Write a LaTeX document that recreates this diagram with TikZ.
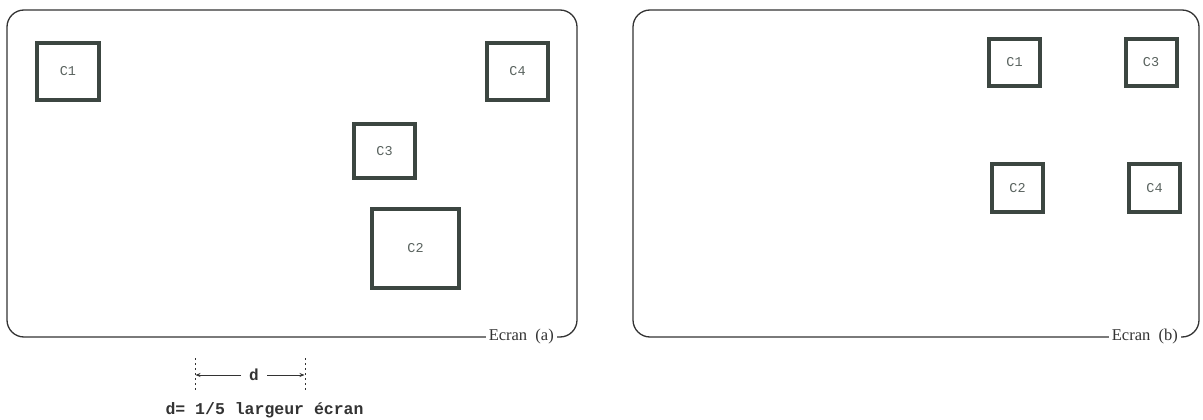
\documentclass[tikz,border=0pt]{standalone}
\usepackage{fontspec}
\setmainfont{Liberation Serif}
\newfontfamily\monof{Liberation Mono}
\usetikzlibrary{arrows.meta}
\definecolor{boxc}{HTML}{3C4641}
\definecolor{linec}{HTML}{333333}
\tikzset{
  screen/.style={draw=linec, line width=1.3pt, rounded corners=17pt},
  cbox/.style={draw=boxc, line width=4pt, font=\monof\fontsize{13.5}{13.5}\selectfont, text=boxc!85},
  scrlabel/.style={fill=white, inner sep=3pt, font=\fontsize{16.5}{16.5}\selectfont, text=linec},
  dimline/.style={draw=linec, line width=0.8pt, dash pattern=on 2pt off 3pt},
  dimarrow/.style={draw=linec, line width=0.8pt, -{Stealth[length=5pt,width=4pt]}},
}
\begin{document}
\begin{tikzpicture}[x=1pt,y=-1pt]
\useasboundingbox (0,0) rectangle (1203,420);
% screens
\draw[screen] (7,10) rectangle (577,337);
\draw[screen] (633,10) rectangle (1199,337);
\node[scrlabel, anchor=east] (la) at (557,337) {Ecran\ \ (a)};
\node[scrlabel, anchor=east] (lb) at (1181,337) {Ecran\ \ (b)};
% screen (a) boxes
\node[cbox, minimum width=62pt, minimum height=57pt] (a1) at (68,71.5) {C1};
\node[cbox, minimum width=61pt, minimum height=57pt] (a4) at (517.5,71.5) {C4};
\node[cbox, minimum width=61pt, minimum height=54pt] (a3) at (384.5,151) {C3};
\node[cbox, minimum width=87pt, minimum height=79pt] (a2) at (415.5,248.5) {C2};
% screen (b) boxes
\node[cbox, minimum width=51pt, minimum height=47pt] (b1) at (1014.5,62.5) {C1};
\node[cbox, minimum width=51pt, minimum height=47pt] (b3) at (1151,62.5) {C3};
\node[cbox, minimum width=51pt, minimum height=48pt] (b2) at (1017.5,188) {C2};
\node[cbox, minimum width=51pt, minimum height=48pt] (b4) at (1154.5,188) {C4};
% dimension
\coordinate (dl1) at (195,358);
\coordinate (dl2) at (195,392);
\coordinate (dr1) at (305,358);
\coordinate (dr2) at (305,392);
\draw[dimline] (dl1) -- (dl2);
\draw[dimline] (dr1) -- (dr2);
\node[font=\monof\bfseries\fontsize{16}{16}\selectfont, text=linec, inner sep=2pt] (d) at (254,375) {d};
\coordinate (al) at (195.5,375);
\coordinate (ar) at (304.5,375);
\draw[dimarrow] ([xshift=-6pt]d.west) -- (al);
\draw[dimarrow] ([xshift=6pt]d.east) -- (ar);
\node[font=\monof\bfseries\fontsize{16.5}{16.5}\selectfont, text=linec, anchor=west] (dt) at (162,410) {d= 1/5 largeur écran};
\end{tikzpicture}
\end{document}
